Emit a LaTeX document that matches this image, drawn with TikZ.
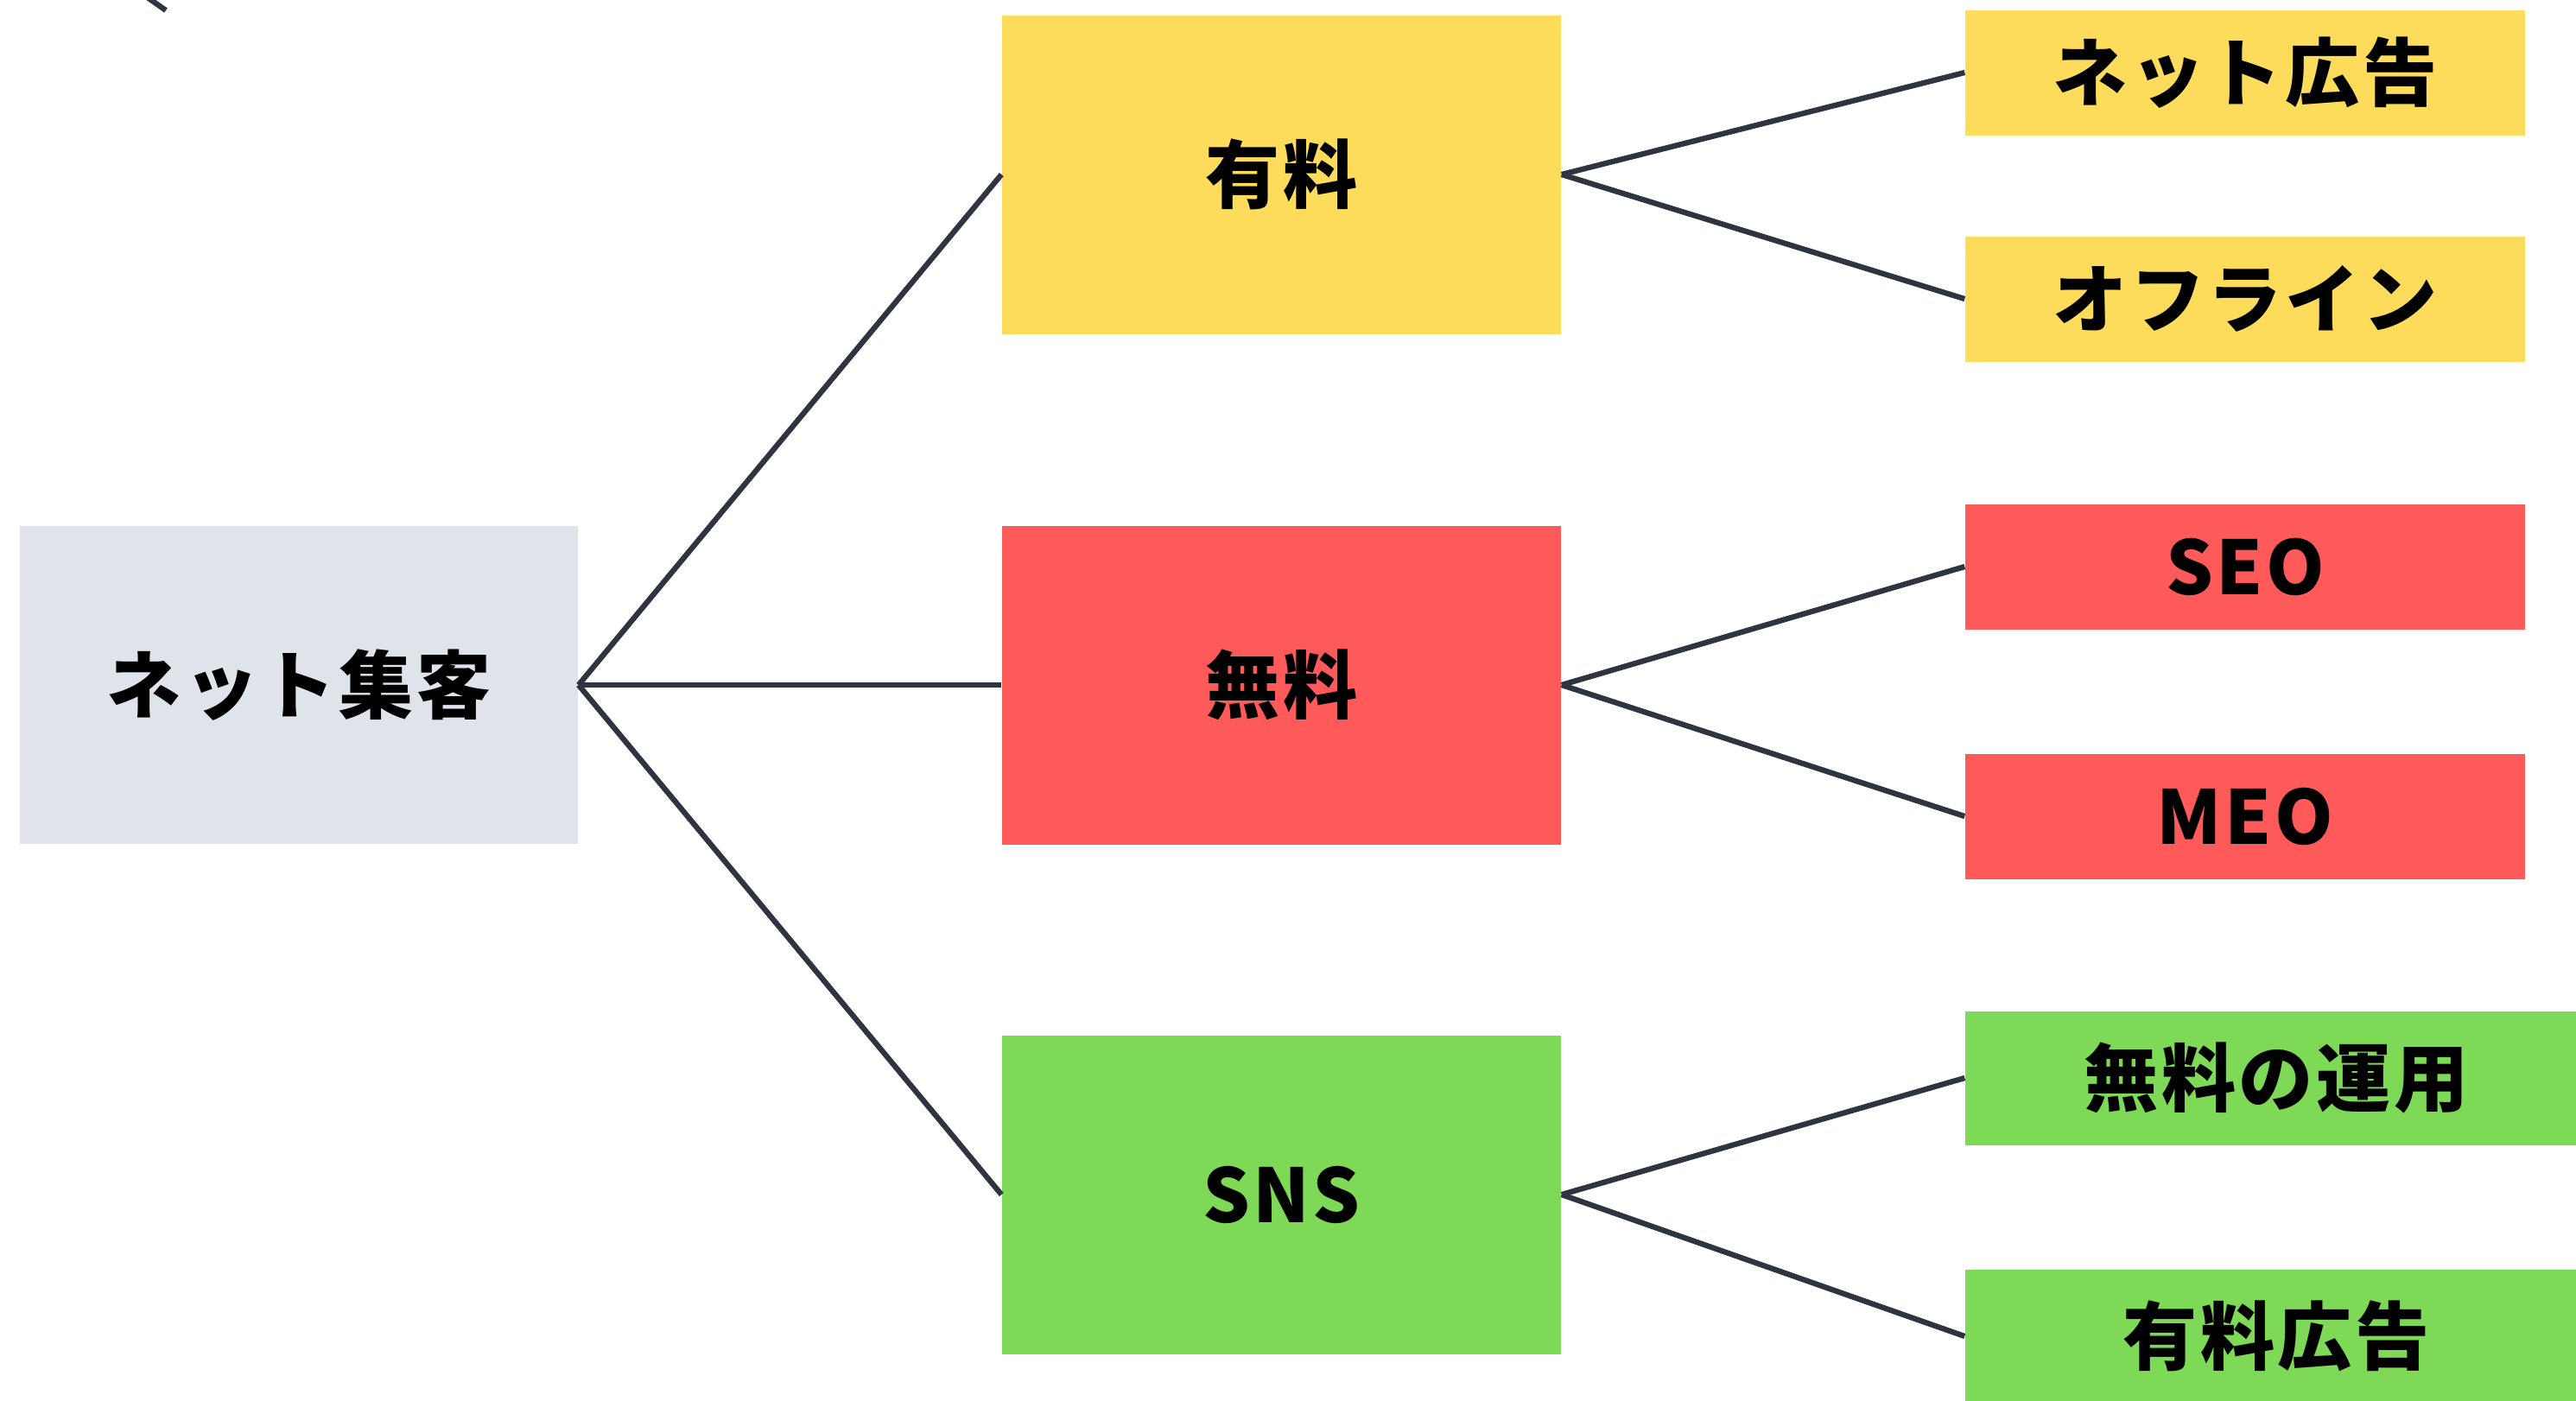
\documentclass[tikz,border=0pt]{standalone}
\usepackage{fontspec}
\setmainfont{Noto Sans CJK JP}[BoldFont=* Black, LetterSpace=4]
\definecolor{rootgray}{HTML}{DFE3EA}
\definecolor{paidyellow}{HTML}{FDDC5C}
\definecolor{freered}{HTML}{FF5A5A}
\definecolor{snsgreen}{HTML}{7ED957}
\definecolor{linkgray}{HTML}{2E3440}
\begin{document}
\begin{tikzpicture}[
  node distance=1.8cm,
  base/.style={rectangle, inner sep=0pt, font=\bfseries\fontsize{24.5}{26}\selectfont, align=center},
  root/.style={base, fill=rootgray, minimum width=6.46cm, minimum height=3.68cm},
  mid/.style={base, minimum width=6.47cm, minimum height=3.69cm},
  leaf/.style={base, minimum width=6.48cm, minimum height=1.45cm},
  wideleaf/.style={base, minimum width=7.2cm, minimum height=1.55cm},
  link/.style={draw=linkgray, line width=1.8pt}
]
\useasboundingbox (0,0) rectangle (29.82,-16.21);
\clip (0,0) rectangle (29.82,-16.21);

% root and the three channels
\node[root] (net) at (3.46,-7.93) {ネット集客};
\node[mid, fill=freered, right of=net, node distance=11.375cm] (free) {無料};
\node[mid, fill=paidyellow, above of=free, node distance=5.91cm] (paid) {有料};
\node[mid, fill=snsgreen, below of=free, node distance=5.9cm] (sns) {SNS};

% leaves
\node[leaf, fill=paidyellow, right of=paid, node distance=11.155cm, yshift=1.18cm] (netad) {ネット広告};
\node[leaf, fill=paidyellow, right of=paid, node distance=11.155cm, yshift=-1.44cm] (offline) {オフライン};
\node[leaf, fill=freered, right of=free, node distance=11.155cm, yshift=1.37cm] (seo) {SEO};
\node[leaf, fill=freered, right of=free, node distance=11.155cm, yshift=-1.52cm] (meo) {MEO};
\node[wideleaf, fill=snsgreen, right of=sns, node distance=11.515cm, yshift=1.35cm] (snsfree) {無料の運用};
\node[wideleaf, fill=snsgreen, right of=sns, node distance=11.515cm, yshift=-1.64cm] (snsad) {有料広告};

\draw[link] (net.east) -- (paid.west);
\draw[link] (net.east) -- (free.west);
\draw[link] (net.east) -- (sns.west);
\draw[link] (paid.east) -- (netad.west);
\draw[link] (paid.east) -- (offline.west);
\draw[link] (free.east) -- (seo.west);
\draw[link] (free.east) -- (meo.west);
\draw[link] (sns.east) -- (snsfree.west);
\draw[link] (sns.east) -- (snsad.west);

% stub cut off by the top edge
\coordinate (stubA) at (1.55,0.14);
\coordinate (stubB) at (1.92,-0.12);
\draw[link] (stubA) -- (stubB);
\end{tikzpicture}
\end{document}
